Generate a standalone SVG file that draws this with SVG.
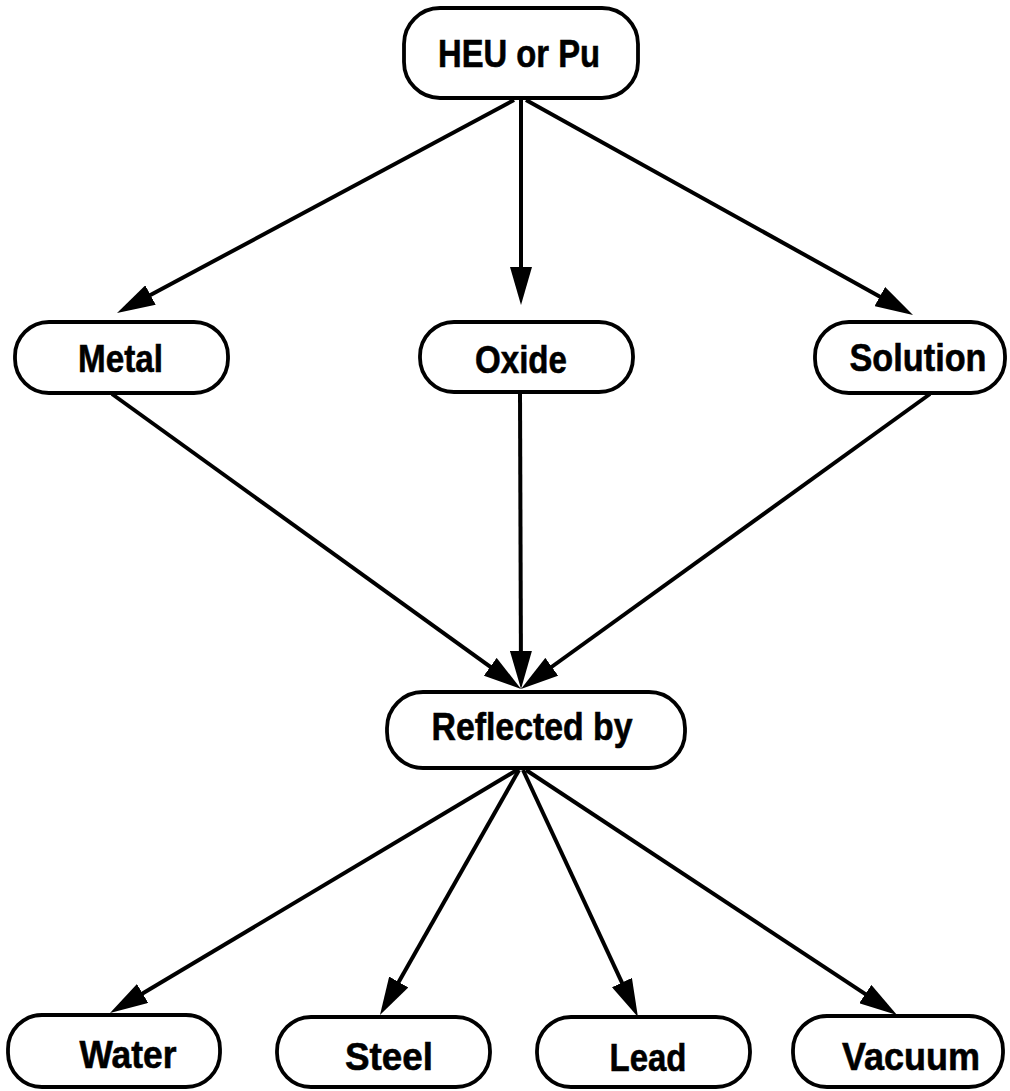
<svg xmlns="http://www.w3.org/2000/svg" width="1010" height="1091" viewBox="0 0 1010 1091">
<defs>
<style>
.box{fill:#fff;stroke:#000;stroke-width:3.8}
.lbl{font-family:"Liberation Sans",Arial,sans-serif;font-weight:bold;font-size:39px;fill:#000;stroke:#000;stroke-width:0.6;text-anchor:middle}
.edge{stroke:#000;stroke-width:4;fill:none;marker-end:url(#ah)}
</style>
<marker id="ah" markerUnits="userSpaceOnUse" markerWidth="40" markerHeight="22" refX="26" refY="11" orient="auto">
<path d="M0,0 L38,11 L0,22 Z" fill="#000"/>
</marker>
</defs>
<rect width="1010" height="1091" fill="#fff"/>
<g id="connectors">
<line class="edge" x1="514" y1="100" x2="127.6" y2="307.3"/>
<line class="edge" x1="521" y1="100" x2="521" y2="293"/>
<line class="edge" x1="526" y1="100" x2="902.5" y2="309.2"/>
<line class="edge" x1="112" y1="394" x2="511.3" y2="682"/>
<line class="edge" x1="520" y1="393" x2="521" y2="677"/>
<line class="edge" x1="930" y1="394" x2="530.7" y2="682"/>
<line class="edge" x1="517" y1="770" x2="120.3" y2="1006.8"/>
<line class="edge" x1="519" y1="770" x2="385.9" y2="1004.6"/>
<line class="edge" x1="523" y1="770" x2="632.9" y2="1006.1"/>
<line class="edge" x1="526" y1="770" x2="887" y2="1008.4"/>
</g>
<g id="heu"><rect class="box" x="404" y="8" width="234" height="90" rx="36"/><text class="lbl" x="519" y="67" textLength="162" lengthAdjust="spacingAndGlyphs">HEU or Pu</text></g>
<g id="metal"><rect class="box" x="15" y="322" width="213" height="71" rx="34"/><text class="lbl" x="120.5" y="372" textLength="85" lengthAdjust="spacingAndGlyphs">Metal</text></g>
<g id="oxide"><rect class="box" x="420" y="322" width="213" height="70" rx="34"/><text class="lbl" x="521" y="373" textLength="92" lengthAdjust="spacingAndGlyphs">Oxide</text></g>
<g id="solution"><rect class="box" x="815" y="322" width="190" height="71" rx="34"/><text class="lbl" x="918" y="371" textLength="137" lengthAdjust="spacingAndGlyphs">Solution</text></g>
<g id="reflected"><rect class="box" x="387" y="692" width="298" height="76" rx="36"/><text class="lbl" x="532" y="740" textLength="201" lengthAdjust="spacingAndGlyphs">Reflected by</text></g>
<g id="water"><rect class="box" x="8" y="1015" width="212" height="72" rx="34"/><text class="lbl" x="128" y="1068" textLength="97" lengthAdjust="spacingAndGlyphs">Water</text></g>
<g id="steel"><rect class="box" x="277" y="1017" width="213" height="70" rx="34"/><text class="lbl" x="389" y="1070" textLength="88" lengthAdjust="spacingAndGlyphs">Steel</text></g>
<g id="lead"><rect class="box" x="537" y="1017" width="213" height="70" rx="34"/><text class="lbl" x="648" y="1071" textLength="77" lengthAdjust="spacingAndGlyphs">Lead</text></g>
<g id="vacuum"><rect class="box" x="793" y="1016" width="210" height="71" rx="34"/><text class="lbl" x="911" y="1070" textLength="138" lengthAdjust="spacingAndGlyphs">Vacuum</text></g>
</svg>
